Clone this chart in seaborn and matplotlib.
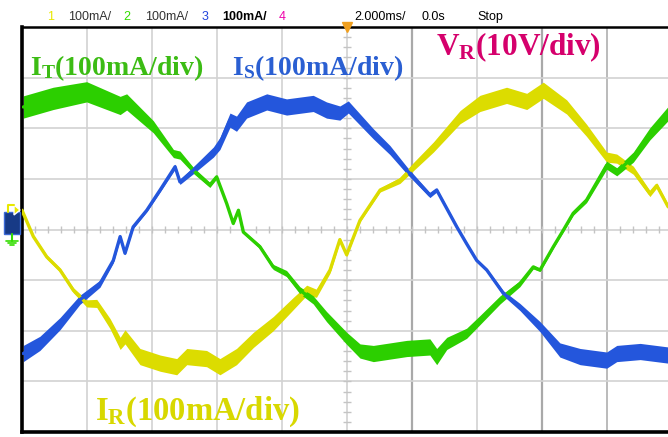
import numpy as np
import pandas as pd
import seaborn as sns
import matplotlib
matplotlib.use("Agg")
import matplotlib.pyplot as plt
from matplotlib.patches import Rectangle, Polygon

# ---------------- data (time in ms, current in mA) ----------------
t_green = [0.04, 0.96, 1.99, 3.02, 3.22, 4.04, 4.66, 4.86, 5.27, 5.78, 5.99, 6.30,
           6.50, 6.66, 6.81, 7.32, 7.73, 8.14, 8.55, 8.96, 9.37, 9.99, 10.40, 10.81,
           11.84, 12.55, 12.76, 13.07, 13.68, 14.09, 14.71, 15.32, 15.73, 15.94, 16.35,
           16.66, 16.96, 17.37, 17.99, 18.30, 18.81, 19.32, 19.88]
i_green = [242, 259, 272, 245, 252, 203, 150, 147, 117, 88, 104, 51,
           12, 38, -5, -34, -74, -87, -120, -139, -172, -215, -240, -245,
           -235, -232, -251, -225, -205, -179, -139, -107, -74, -80, -34,
           -1, 32, 58, 127, 114, 143, 189, 229]
w_green = [22, 22, 20, 18, 16, 12, 8, 8, 6, 5, 4, 3,
           3, 3, 3, 4, 5, 6, 7, 8, 10, 12, 14, 16,
           16, 16, 16, 12, 10, 9, 8, 6, 4, 3, 3,
           3, 4, 5, 8, 8, 10, 12, 14]

t_blue = [0.04, 0.55, 1.17, 1.78, 2.40, 2.81, 3.02, 3.17, 3.42, 3.84, 4.25, 4.71,
          4.86, 5.27, 5.89, 6.09, 6.40, 6.60, 6.91, 7.53, 8.14, 8.96, 9.37, 9.78,
          10.04, 10.81, 11.32, 11.84, 12.55, 12.76, 13.38, 13.68, 13.99, 14.30, 14.81,
          15.32, 15.94, 16.55, 17.17, 17.99, 18.30, 19.02, 19.88]
i_blue = [-245, -225, -186, -139, -107, -61, -14, -47, 5, 38, 78, 124,
          94, 117, 153, 170, 216, 209, 236, 252, 242, 249, 236, 230,
          242, 189, 157, 117, 68, 78, 5, -28, -61, -80, -126,
          -153, -192, -238, -251, -258, -245, -241, -248]
w_blue = [16, 14, 12, 9, 7, 5, 4, 3, 3, 3, 4, 5,
          5, 7, 10, 12, 14, 15, 16, 16, 16, 16, 16, 14,
          12, 10, 9, 7, 5, 4, 3, 3, 3, 3, 5,
          7, 10, 14, 16, 16, 16, 16, 16]

t_yellow = [0.00, 0.35, 0.76, 1.17, 1.58, 1.99, 2.30, 2.71, 3.02, 3.17, 3.63, 4.25,
            4.76, 5.07, 5.68, 6.09, 6.60, 7.12, 7.73, 8.35, 8.76, 9.06, 9.48, 9.78,
            9.99, 10.40, 11.02, 11.63, 12.04, 12.66, 13.48, 14.09, 14.91, 15.53, 16.04,
            16.76, 17.37, 17.99, 18.30, 18.81, 19.32, 19.53, 19.88]
i_yellow = [38, -14, -54, -80, -120, -146, -146, -186, -225, -212, -251, -264,
            -271, -251, -255, -271, -251, -218, -186, -146, -120, -126, -80, -20,
            -50, 18, 78, 97, 124, 163, 222, 249, 265, 253, 275,
            242, 196, 143, 140, 117, 71, 87, 45]
w_yellow = [3, 3, 4, 4, 5, 7, 8, 10, 12, 14, 16, 16,
            16, 16, 16, 16, 16, 15, 14, 12, 10, 8, 6, 4,
            3, 3, 4, 6, 8, 10, 13, 16, 16, 16, 16,
            14, 12, 10, 9, 8, 6, 5, 5]

phase_names = ["I_R", "I_T", "I_S"]
trace_colors = {"I_R": "#dcdc00", "I_T": "#2ccf00", "I_S": "#2456dc"}

x_ticks_ms = np.arange(0, 20.1, 2)
y_ticks_ma = np.arange(-400, 401, 100)

header_items = [("1", "#e8e800", False), ("100mA/", "#333333", False),
                ("2", "#33dd00", False), ("100mA/", "#333333", False),
                ("3", "#2244dd", False), ("100mA/", "#000000", True),
                ("4", "#ee00aa", False), ("2.000ms/", "#000000", False),
                ("0.0s", "#000000", False), ("Stop", "#000000", False)]

# ---------------- build frame ----------------
frames = []
for name, t, i in [("I_R", t_yellow, i_yellow), ("I_T", t_green, i_green), ("I_S", t_blue, i_blue)]:
    frames.append(pd.DataFrame({"t": t, "i": i, "phase": name}))
df = pd.concat(frames, ignore_index=True)

sns.set_style("white")
plt.rcParams["font.family"] = ["Liberation Sans", "DejaVu Sans"]
plt.rcParams["mathtext.fontset"] = "custom"
plt.rcParams["mathtext.rm"] = "Liberation Serif:bold"
plt.rcParams["mathtext.it"] = "Liberation Serif:bold"
plt.rcParams["mathtext.bf"] = "Liberation Serif:bold"

W, H = 668, 437
fig = plt.figure(figsize=(W / 100, H / 100), dpi=100)
ax = fig.add_axes([22 / W, 5 / H, 650 / W, 405 / H])

# grid
for xv in x_ticks_ms:
    c, lw = "#d2d2d2", 1.2
    if xv in (12, 16):
        c, lw = "#a9a9a9", 1.6
    elif xv == 18:
        c, lw = "#bbbbbb", 1.4
    ax.axvline(xv, color=c, lw=lw, zorder=0)
for yv in y_ticks_ma:
    ax.axhline(yv, color="#d2d2d2", lw=1.2, zorder=0)
# centre cross ticks
minor_x = np.arange(0, 20.01, 0.4)
ax.vlines(minor_x, -6, 6, color="#c4c4c4", lw=1, zorder=0)
minor_y = np.arange(-400, 401, 20)
ax.hlines(minor_y, 9.88, 10.12, color="#c4c4c4", lw=1, zorder=0)

# noise envelopes
for name, t, i, w in [("I_R", t_yellow, i_yellow, w_yellow),
                      ("I_T", t_green, i_green, w_green),
                      ("I_S", t_blue, i_blue, w_blue)]:
    ia, wa = np.array(i), np.array(w)
    ax.fill_between(t, ia - wa, ia + wa, color=trace_colors[name], lw=0, zorder=2)

sns.lineplot(data=df, x="t", y="i", hue="phase", hue_order=phase_names,
             palette=trace_colors, linewidth=2.4, legend=False, ax=ax,
             estimator=None, sort=False, zorder=3)

ax.set_xlim(0, 20)
ax.set_ylim(-400, 400)
ax.set_xticks([])
ax.set_yticks([])
ax.set_xlabel("")
ax.set_ylabel("")
for s in ["left", "bottom"]:
    ax.spines[s].set_color("black")
    ax.spines[s].set_linewidth(2.6)
ax.spines["top"].set_color("black")
ax.spines["top"].set_linewidth(1.8)
ax.spines["right"].set_visible(False)

# trigger marker
ax.plot([10], [400], marker="v", color="#f0a020", markersize=7, clip_on=False, zorder=5)

# header
hx = [51, 90, 127, 167, 205, 245, 282, 380, 433, 490]
for (txt, col, bold), x in zip(header_items, hx):
    fig.text(x / W, 1 - 17 / H, txt, color=col, fontsize=9, ha="center", va="center",
             fontweight="bold" if bold else "normal")

# channel labels
labels = [(r"$\mathrm{I_{T}(100mA/div)}$", "#3cbc14", 30, 75, 20),
          (r"$\mathrm{I_{S}(100mA/div)}$", "#2a5fd2", 232, 75, 20),
          (r"$\mathrm{V_{R}(10V/div)}$", "#d5006c", 436, 55, 22.5),
          (r"$\mathrm{I_{R}(100mA/div)}$", "#d8d800", 95, 420, 23.5)]
for txt, col, x, y, fs in labels:
    fig.text(x / W, 1 - y / H, txt, color=col, fontsize=fs, ha="left", va="baseline")

# ground / channel marker at left
fig.patches.append(Rectangle((4 / W, 1 - 234 / H), 16 / W, 22 / H, transform=fig.transFigure,
                             facecolor="#173a86", edgecolor="#3c6ad6", lw=1))
fig.patches.append(Polygon([(14 / W, 1 - 205 / H), (20 / W, 1 - 210 / H), (14 / W, 1 - 215 / H)],
                           closed=True, transform=fig.transFigure, facecolor="#e8e800"))
fig.lines.append(plt.Line2D([8 / W, 8 / W, 14 / W], [1 - 212 / H, 1 - 205 / H, 1 - 205 / H],
                            transform=fig.transFigure, color="#e8e800", lw=1.5))
fig.lines.append(plt.Line2D([12 / W, 12 / W], [1 - 234 / H, 1 - 241 / H],
                            transform=fig.transFigure, color="#33dd00", lw=1.5))
for k, half in enumerate([6, 4, 2]):
    fig.lines.append(plt.Line2D([(12 - half) / W, (12 + half) / W], [1 - (241 + 2 * k) / H] * 2,
                                transform=fig.transFigure, color="#33dd00", lw=1.2))

fig.savefig("out.png", dpi=100)
